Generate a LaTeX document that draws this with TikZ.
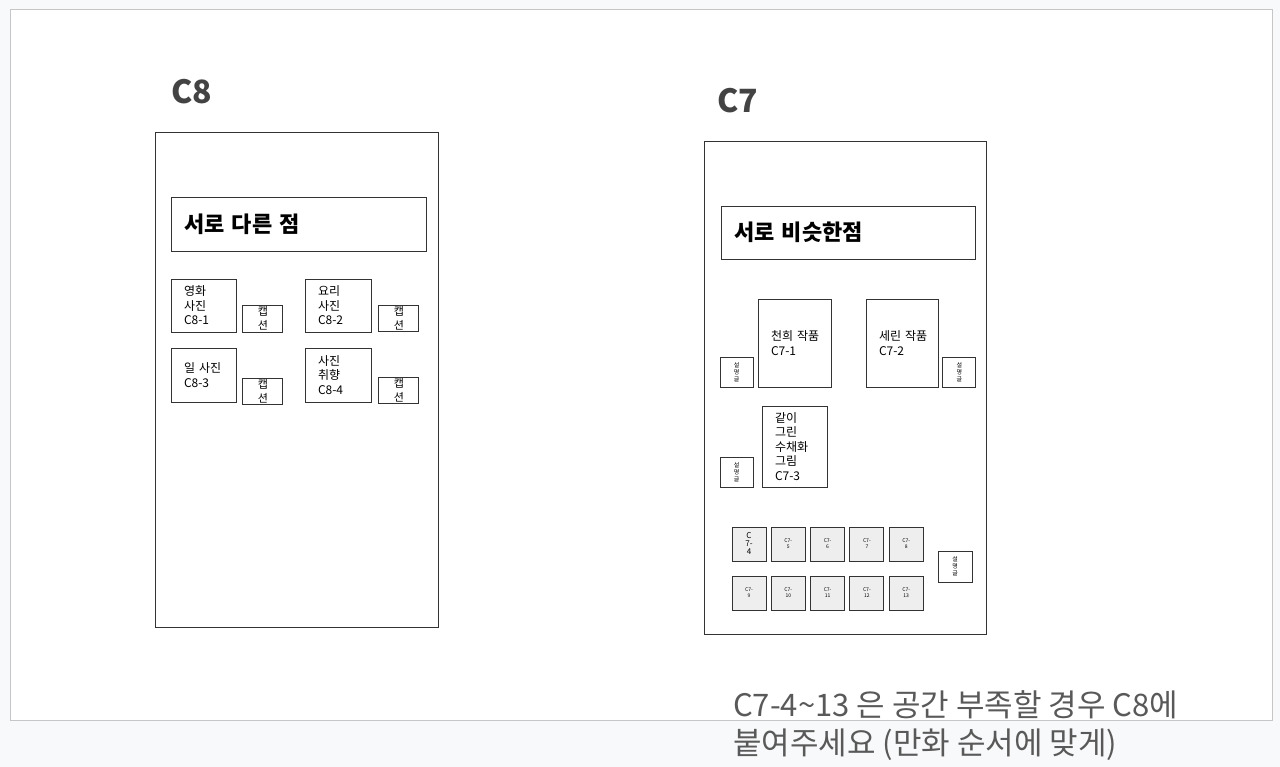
\documentclass[tikz,border=0pt]{standalone}
\usepackage{fontspec}
\setmainfont{Noto Sans CJK KR}
\usetikzlibrary{positioning}
\definecolor{pagebg}{HTML}{F8F9FA}
\definecolor{slideline}{HTML}{C6C6C6}
\definecolor{ink}{HTML}{333333}
\definecolor{headgray}{HTML}{434343}
\definecolor{notegray}{HTML}{595959}
\definecolor{tilegray}{HTML}{EEEEEE}
\begin{document}
\begin{tikzpicture}[x=1pt,y=-1pt,
    box/.style={draw=ink, fill=white, line width=0.9pt, inner sep=0pt},
    photo/.style={box, align=left, inner xsep=13pt, font=\fontsize{12}{14.5}\selectfont},
    banner/.style={box, align=left, inner xsep=13pt, font=\fontsize{22}{26}\selectfont\bfseries},
    caption/.style={box, align=center, minimum width=40, minimum height=27, font=\fontsize{11}{14}\selectfont},
    memo/.style={box, align=center, minimum width=33, minimum height=30, font=\fontsize{6}{7}\selectfont},
    tile/.style={box, fill=tilegray, align=center, minimum size=34, font=\fontsize{5}{6}\selectfont},
    heading/.style={anchor=west, inner sep=0pt, text=headgray, font=\fontsize{32}{36}\selectfont\bfseries}]
    % page and slide
    \fill[pagebg] (0,0) rectangle (1280,767);
    \useasboundingbox (0,0) rectangle (1280,767);
    \draw[slideline, fill=white, line width=1pt] (10,10) rectangle (1272,720);

    % C8
    \node (c8head) [heading] at (171,92) {C8};
    \node (c8panel) [box, minimum width=283, minimum height=495] at (296.5,379.5) {};
    \node (c8title) [banner, text width=229pt, minimum height=54] at (298.5,224) {서로 다른 점};
    \node (movie) [photo, text width=39pt, minimum height=53] at (203.5,305.5) {영화\\사진\\C8-1};
    \node (cook) [photo, text width=40pt, minimum height=53] at (338,305.5) {요리\\사진\\C8-2};
    \node (work) [photo, text width=39pt, minimum height=54] at (203.5,375) {일~사진\\C8-3};
    \node (taste) [photo, text width=40pt, minimum height=54] at (338,375) {사진\\취향\\C8-4};
    \node (cap1) [caption, anchor=south west] at ([xshift=6] movie.south east) {캡\\션};
    \node (cap2) [caption, minimum height=26, anchor=south west] at ([xshift=7,yshift=1] cook.south east) {캡\\션};
    \node (cap3) [caption, minimum height=26, anchor=south west] at ([xshift=6,yshift=-2] work.south east) {캡\\션};
    \node (cap4) [caption, minimum height=26, anchor=south west] at ([xshift=7,yshift=-1] taste.south east) {캡\\션};

    % C7
    \node (c7head) [heading] at (717,101) {C7};
    \node (c7panel) [box, minimum width=282, minimum height=493] at (845,387.5) {};
    \node (c7title) [banner, text width=228pt, minimum height=53] at (848,232.5) {서로 비슷한점};
    \node (chunhee) [photo, text width=47pt, minimum height=88] at (794.5,343) {천희~작품\\C7-1};
    \node (serin) [photo, text width=46pt, minimum height=88] at (902,343) {세린~작품\\C7-2};
    \node (together) [photo, text width=39pt, minimum height=81] at (794.5,446.5) {같이\\그린\\수채화\\그림\\C7-3};
    \node (memo1) [memo, anchor=south east] at ([xshift=-4] chunhee.south west) {설\\명\\글};
    \node (memo2) [memo, anchor=south west] at ([xshift=4] serin.south east) {설\\명\\글};
    \node (memo3) [memo, anchor=south east] at ([xshift=-8] together.south west) {설\\명\\글};

    % small panels C7-4 ... C7-13
    \node (tile4) [tile, font=\fontsize{8}{8}\selectfont] at (749,544) {C\\7-\\4};
    \foreach \n/\col/\row in {5/1/0,6/2/0,7/3/0,8/4/0,9/0/1,10/1/1,11/2/1,12/3/1,13/4/1}
        \node (tile\n) [tile] at (749+39.3*\col,544+49*\row) {C7-\\\n};
    \node (memo4) [memo, minimum width=34, minimum height=31] at (955,566.5) {설\\명\\글};

    % note
    \node (note) [anchor=west, inner sep=0pt, align=left, text=notegray,
        font=\fontsize{31}{38}\selectfont] at (733,726)
        {C7-4\textasciitilde13 은 공간 부족할 경우 C8에\\붙여주세요 (만화 순서에 맞게)};
\end{tikzpicture}
\end{document}
